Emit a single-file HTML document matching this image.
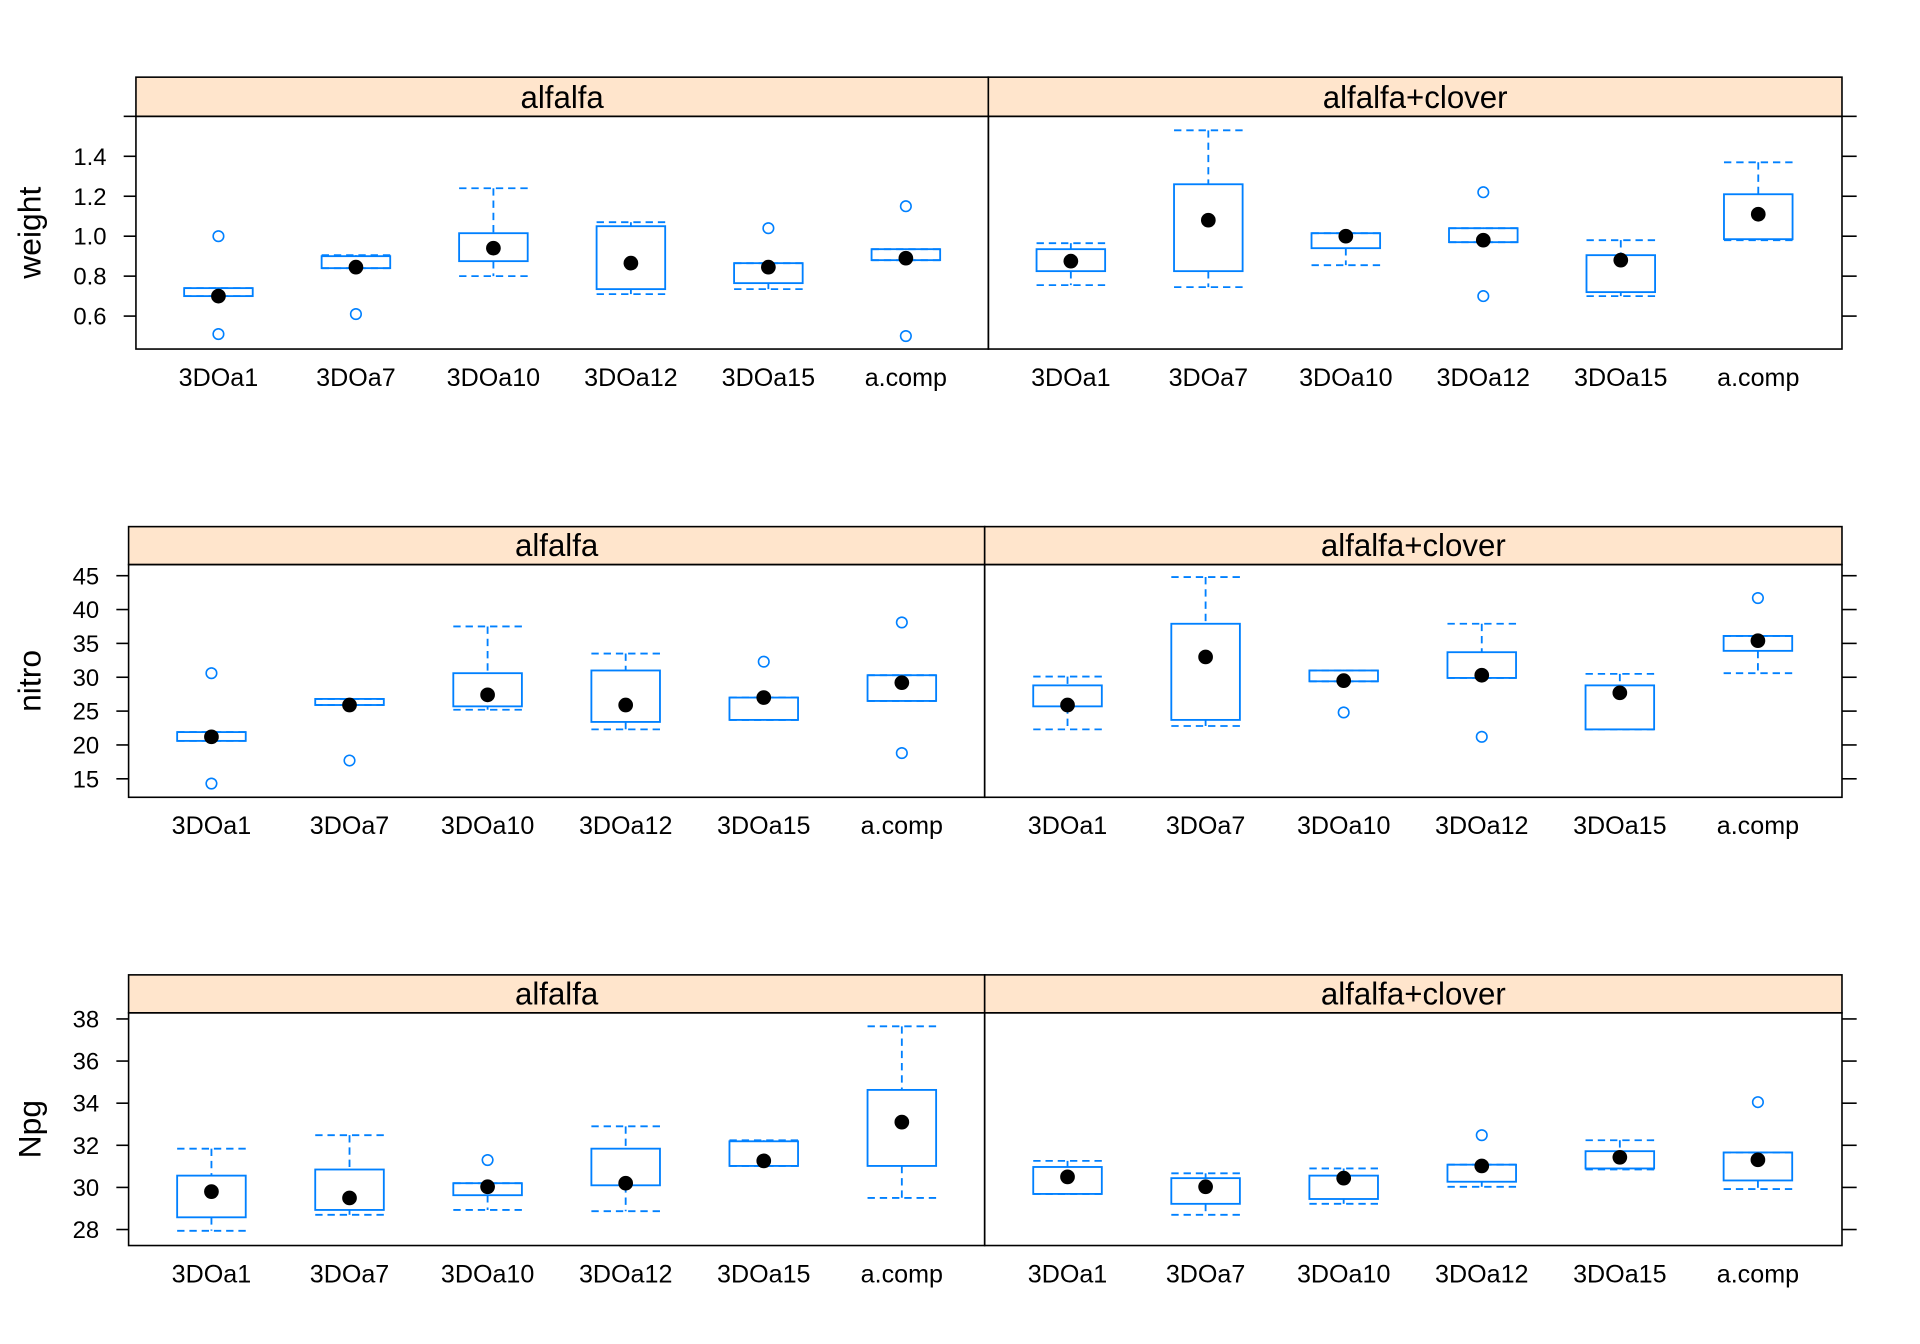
<!DOCTYPE html>
<html><head><meta charset="utf-8">
<style>
html,body{margin:0;padding:0;background:#fff;}
svg{display:block;}
text{font-family:"Liberation Sans",Arial,sans-serif;}
</style></head>
<body>
<svg id="chart" xmlns="http://www.w3.org/2000/svg" width="1920" height="1344" viewBox="0 0 1567.7 1097.4" preserveAspectRatio="none"></svg>
<script>
const categories = ["3DOa1","3DOa7","3DOa10","3DOa12","3DOa15","a.comp"];
const panelNames = ["alfalfa","alfalfa+clover"];

// weight
const weightAlfLo  = [0.70,0.84,0.80,0.71,0.735,0.88];
const weightAlfQ1  = [0.70,0.84,0.875,0.735,0.765,0.88];
const weightAlfMed = [0.70,0.845,0.94,0.865,0.845,0.89];
const weightAlfQ3  = [0.74,0.90,1.015,1.05,0.865,0.935];
const weightAlfHi  = [0.74,0.905,1.24,1.07,0.865,0.935];
const weightAlfOut = [[1.0,0.51],[0.61],[],[],[1.04],[1.15,0.50]];
const weightClvLo  = [0.755,0.745,0.855,0.97,0.70,0.98];
const weightClvQ1  = [0.825,0.825,0.94,0.97,0.72,0.985];
const weightClvMed = [0.875,1.08,1.0,0.98,0.88,1.11];
const weightClvQ3  = [0.935,1.26,1.015,1.04,0.905,1.21];
const weightClvHi  = [0.965,1.53,1.015,1.04,0.98,1.37];
const weightClvOut = [[],[],[],[1.22,0.70],[],[]];
const weightTicks = [0.6,0.8,1.0,1.2,1.4,1.6];
const weightTickLabels = ["0.6","0.8","1.0","1.2","1.4",""];

// nitro
const nitroAlfLo  = [20.6,25.9,25.2,22.3,23.7,26.5];
const nitroAlfQ1  = [20.6,25.9,25.7,23.4,23.7,26.5];
const nitroAlfMed = [21.2,25.9,27.4,25.9,27.0,29.2];
const nitroAlfQ3  = [21.9,26.8,30.6,31.0,27.0,30.3];
const nitroAlfHi  = [21.9,26.8,37.5,33.5,27.0,30.3];
const nitroAlfOut = [[30.6,14.3],[17.7],[],[],[32.3],[38.1,18.8]];
const nitroClvLo  = [22.3,22.8,29.4,29.9,22.3,30.6];
const nitroClvQ1  = [25.7,23.7,29.4,29.9,22.3,33.9];
const nitroClvMed = [25.9,33.0,29.5,30.3,27.7,35.4];
const nitroClvQ3  = [28.8,37.9,31.0,33.7,28.8,36.1];
const nitroClvHi  = [30.1,44.8,31.0,37.9,30.5,36.1];
const nitroClvOut = [[],[],[24.8],[21.2],[],[41.7]];
const nitroTicks = [15,20,25,30,35,40,45];
const nitroTickLabels = ["15","20","25","30","35","40","45"];

// Npg
const npgAlfLo  = [27.94,28.7,28.93,28.87,31.02,29.5];
const npgAlfQ1  = [28.58,28.93,29.63,30.1,31.02,31.02];
const npgAlfMed = [29.8,29.5,30.03,30.2,31.26,33.1];
const npgAlfQ3  = [30.56,30.85,30.2,31.84,32.19,34.63];
const npgAlfHi  = [31.84,32.48,30.2,32.9,32.24,37.65];
const npgAlfOut = [[],[],[31.3],[],[],[]];
const npgClvLo  = [29.69,28.7,29.22,30.03,30.85,29.92];
const npgClvQ1  = [29.69,29.22,29.45,30.27,30.9,30.33];
const npgClvMed = [30.5,30.03,30.44,31.02,31.43,31.31];
const npgClvQ3  = [30.97,30.44,30.56,31.08,31.72,31.66];
const npgClvHi  = [31.26,30.67,30.9,31.08,32.24,31.66];
const npgClvOut = [[],[],[],[32.48],[],[34.05]];
const npgTicks = [28,30,32,34,36,38];
const npgTickLabels = ["28","30","32","34","36","38"];

const NS="http://www.w3.org/2000/svg";
const svg=document.getElementById('chart');
function el(tag,attrs,parent){const e=document.createElementNS(NS,tag);for(const k in attrs)e.setAttribute(k,attrs[k]);(parent||svg).appendChild(e);return e;}
const BLUE="#0080ff";

const rows=[
 {name:"weight",label:"weight",xL:111,xM:807,xR:1504,sTop:63,pTop:95,pBot:285,min:0.435,max:1.6,ticks:weightTicks,tl:weightTickLabels,
  data:[[weightAlfLo,weightAlfQ1,weightAlfMed,weightAlfQ3,weightAlfHi,weightAlfOut],[weightClvLo,weightClvQ1,weightClvMed,weightClvQ3,weightClvHi,weightClvOut]]},
 {name:"nitro",label:"nitro",xL:105,xM:804,xR:1504,sTop:430,pTop:461,pBot:651,min:12.27,max:46.64,ticks:nitroTicks,tl:nitroTickLabels,
  data:[[nitroAlfLo,nitroAlfQ1,nitroAlfMed,nitroAlfQ3,nitroAlfHi,nitroAlfOut],[nitroClvLo,nitroClvQ1,nitroClvMed,nitroClvQ3,nitroClvHi,nitroClvOut]]},
 {name:"npg",label:"Npg",xL:105,xM:804,xR:1504,sTop:796,pTop:827,pBot:1017,min:27.24,max:38.29,ticks:npgTicks,tl:npgTickLabels,
  data:[[npgAlfLo,npgAlfQ1,npgAlfMed,npgAlfQ3,npgAlfHi,npgAlfOut],[npgClvLo,npgClvQ1,npgClvMed,npgClvQ3,npgClvHi,npgClvOut]]}
];

rows.forEach(r=>{
  const g=el('g',{});
  
  
  const yS=v=>r.pBot-(v-r.min)/(r.max-r.min)*(r.pBot-r.pTop);
  const pw=(r.xM-r.xL);
  const n=categories.length;
  const xS=(p,i)=>(p===0?r.xL:r.xM)+ (i+0.6)*pw/(n+0.2);
  const bw=56;
  const yt=el('text',{x:0,y:0,transform:`translate(33,${(r.pTop+r.pBot)/2}) rotate(-90)`,'text-anchor':'middle','font-size':26},g);
  yt.textContent=r.label;
  
  
  r.ticks.forEach((t,k)=>{
    const y=yS(t);
    el('line',{x1:r.xL-10,x2:r.xL,y1:y,y2:y,stroke:'#000','stroke-width':1.3},g);
    el('line',{x1:r.xR,x2:r.xR+12,y1:y,y2:y,stroke:'#000','stroke-width':1.3},g);
    if(r.tl[k]){
      const tx=el('text',{x:r.xL-24,y:y+7,'text-anchor':'end','font-size':19.5},g);
      tx.textContent=r.tl[k];
      
      
    }
  });
  for(let p=0;p<2;p++){
    const x0=p===0?r.xL:r.xM, x1=p===0?r.xM:r.xR;
    const strip=el('rect',{x:x0,y:r.sTop,width:x1-x0,height:r.pTop-r.sTop,fill:'#ffe5cc',stroke:'#000','stroke-width':1.3},g);
    
    
    const st=el('text',{x:(x0+x1)/2,y:r.pTop-7,'text-anchor':'middle','font-size':25.5},g);
    st.textContent=panelNames[p];
    
    
    const frame=el('rect',{x:x0,y:r.pTop,width:x1-x0,height:r.pBot-r.pTop,fill:'none',stroke:'#000','stroke-width':1.3},g);
    
    
    const [lo,q1,md,q3,hi,out]=r.data[p];
    categories.forEach((c,i)=>{
      const cx=xS(p,i);
      const bg=el('g',{},g);
      
      
      const dash={stroke:BLUE,'stroke-width':1.5,'stroke-dasharray':'6,4',fill:'none'};
      el('line',Object.assign({x1:cx,x2:cx,y1:yS(hi[i]),y2:yS(q3[i])},dash),bg);
      el('line',Object.assign({x1:cx,x2:cx,y1:yS(q1[i]),y2:yS(lo[i])},dash),bg);
      el('line',Object.assign({x1:cx-bw/2,x2:cx+bw/2,y1:yS(hi[i]),y2:yS(hi[i])},dash),bg);
      el('line',Object.assign({x1:cx-bw/2,x2:cx+bw/2,y1:yS(lo[i]),y2:yS(lo[i])},dash),bg);
      el('rect',{x:cx-bw/2,y:yS(q3[i]),width:bw,height:Math.max(1,yS(q1[i])-yS(q3[i])),fill:'none',stroke:BLUE,'stroke-width':1.5},bg);
      el('circle',{cx:cx,cy:yS(md[i]),r:6,fill:'#000'},bg);
      out[i].forEach(o=>{
        const oc=el('circle',{cx:cx,cy:yS(o),r:4.3,fill:'none',stroke:BLUE,'stroke-width':1.3},bg);
        
        
      });
      const xl=el('text',{x:cx,y:r.pBot+30,'text-anchor':'middle','font-size':20.5},g);
      xl.textContent=c;
      
      
    });
  }
});
</script>
</body></html>
